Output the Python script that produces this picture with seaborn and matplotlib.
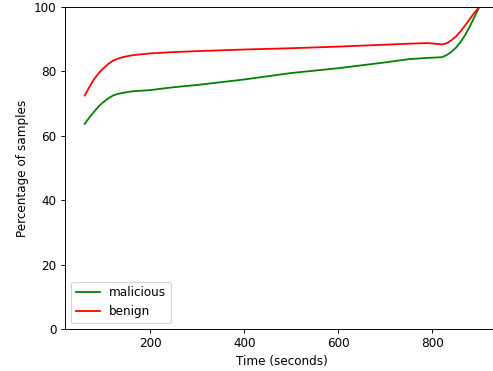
import numpy as np
import pandas as pd
import matplotlib
matplotlib.use('Agg')
import matplotlib.pyplot as plt
import seaborn as sns

# Time points (seconds)
time_s = [60, 70, 80, 90, 100, 110, 120, 130, 140, 160, 200, 250, 300, 400, 500, 600, 700,
          750, 790, 820, 830, 840, 850, 860, 870, 880, 890, 900]

# Percentage of samples
malicious = [63.7, 65.7, 67.5, 69.2, 70.5, 71.6, 72.5, 73.0, 73.3, 73.8, 74.2, 75.1, 75.8, 77.5, 79.5, 81.0, 82.8,
             83.8, 84.2, 84.4, 85.0, 86.0, 87.3, 89.1, 91.3, 94.0, 97.0, 100.0]
benign = [72.5, 75.2, 77.6, 79.5, 81.0, 82.3, 83.3, 83.9, 84.4, 85.0, 85.6, 86.0, 86.3, 86.8, 87.2, 87.7, 88.3,
          88.6, 88.8, 88.4, 88.7, 89.6, 90.8, 92.4, 94.3, 96.3, 98.3, 100.0]

df = pd.DataFrame({'time': time_s, 'malicious': malicious, 'benign': benign})

dpi = 86
fig = plt.figure(figsize=(493 / dpi, 371 / dpi), dpi=dpi)
ax = fig.add_axes([65 / 493, 42 / 371, 434 / 493, 322 / 371])

sns.lineplot(data=df, x='time', y='malicious', color='green', label='malicious', ax=ax)
sns.lineplot(data=df, x='time', y='benign', color='red', label='benign', ax=ax)

ax.set_ylim(0, 100)
ax.set_xticks([200, 400, 600, 800])
ax.set_xlabel('Time (seconds)')
ax.set_ylabel('Percentage of samples')
ax.legend(loc='lower left')

plt.savefig('out.png', dpi=dpi)
